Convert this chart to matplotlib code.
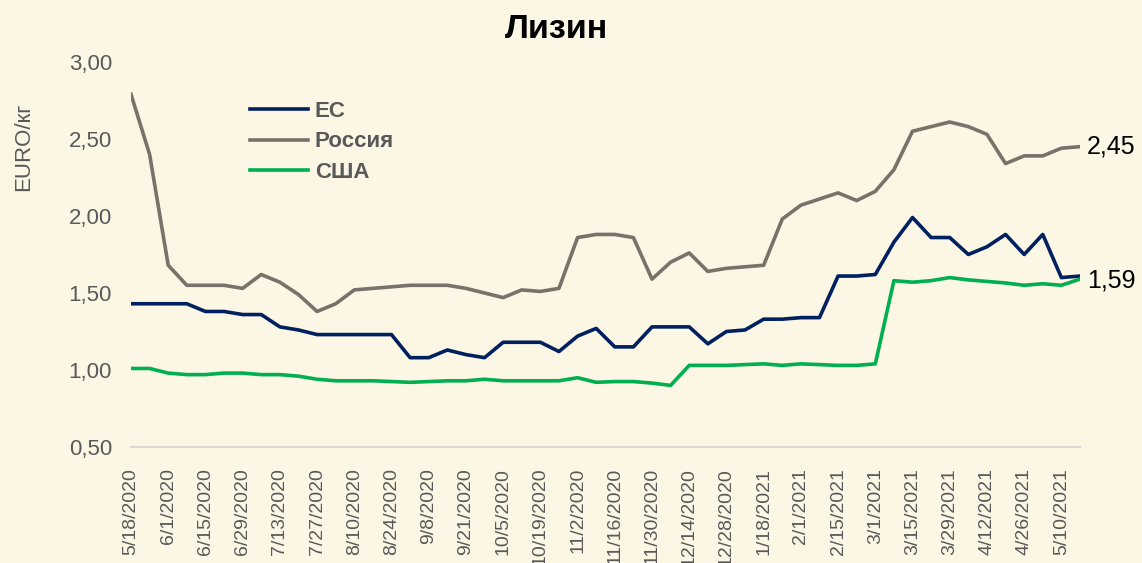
import matplotlib.pyplot as plt
import numpy as np

# weekly prices, EURO/kg
eu = [1.43, 1.43, 1.43, 1.43, 1.38, 1.38, 1.36, 1.36, 1.28, 1.26,
      1.23, 1.23, 1.23, 1.23, 1.23, 1.08, 1.08, 1.13, 1.10, 1.08,
      1.18, 1.18, 1.18, 1.12, 1.22, 1.27, 1.15, 1.15, 1.28, 1.28,
      1.28, 1.17, 1.25, 1.26, 1.33, 1.33, 1.34, 1.34, 1.61, 1.61,
      1.62, 1.83, 1.99, 1.86, 1.86, 1.75, 1.80, 1.88, 1.75, 1.88,
      1.60, 1.61]
russia = [2.79, 2.40, 1.68, 1.55, 1.55, 1.55, 1.53, 1.62, 1.57, 1.49,
          1.38, 1.43, 1.52, 1.53, 1.54, 1.55, 1.55, 1.55, 1.53, 1.50,
          1.47, 1.52, 1.51, 1.53, 1.86, 1.88, 1.88, 1.86, 1.59, 1.70,
          1.76, 1.64, 1.66, 1.67, 1.68, 1.98, 2.07, 2.11, 2.15, 2.10,
          2.16, 2.30, 2.55, 2.58, 2.61, 2.58, 2.53, 2.34, 2.39, 2.39,
          2.44, 2.45]
usa = [1.01, 1.01, 0.98, 0.97, 0.97, 0.98, 0.98, 0.97, 0.97, 0.96,
       0.94, 0.93, 0.93, 0.93, 0.925, 0.92, 0.925, 0.93, 0.93, 0.94,
       0.93, 0.93, 0.93, 0.93, 0.95, 0.92, 0.925, 0.925, 0.915, 0.90,
       1.03, 1.03, 1.03, 1.035, 1.04, 1.03, 1.04, 1.035, 1.03, 1.03,
       1.04, 1.58, 1.57, 1.58, 1.60, 1.585, 1.575, 1.565, 1.55, 1.56,
       1.55, 1.59]
tick_labels = ["5/18/2020", "6/1/2020", "6/15/2020", "6/29/2020", "7/13/2020",
               "7/27/2020", "8/10/2020", "8/24/2020", "9/8/2020", "9/21/2020",
               "10/5/2020", "10/19/2020", "11/2/2020", "11/16/2020", "11/30/2020",
               "12/14/2020", "12/28/2020", "1/18/2021", "2/1/2021", "2/15/2021",
               "3/1/2021", "3/15/2021", "3/29/2021", "4/12/2021", "4/26/2021",
               "5/10/2021"]

plt.rcParams["font.family"] = ["Liberation Sans", "DejaVu Sans"]
bg = "#FCF6E4"
grey_txt = "#595959"

fig = plt.figure(figsize=(11.42, 5.63), dpi=100, facecolor=bg)
ax = fig.add_axes([0.1147, 0.206, 0.831, 0.684], facecolor=bg)

x = np.arange(len(eu))
ax.plot(x, eu, color="#002060", lw=2.6, label="ЕС")
ax.plot(x, russia, color="#7A716B", lw=2.6, label="Россия")
ax.plot(x, usa, color="#00B050", lw=2.6, label="США")

ax.set_xlim(0, len(eu) - 1)
ax.set_ylim(0.5, 3.0)
yt = np.arange(0.5, 3.01, 0.5)
ax.set_yticks(yt)
ax.set_yticklabels([f"{v:.2f}".replace(".", ",") for v in yt])
ax.set_xticks(np.arange(0, len(eu), 2))
ax.set_xticklabels(tick_labels, rotation=90)
ax.tick_params(axis="both", length=0, labelcolor=grey_txt)
ax.tick_params(axis="y", labelsize=16, pad=13.7)
ax.tick_params(axis="x", labelsize=14, pad=15)

for s in ["top", "right", "left"]:
    ax.spines[s].set_visible(False)
ax.spines["bottom"].set_color("#D9D9D9")
ax.spines["bottom"].set_linewidth(1.5)

# end-of-line labels
ax.annotate("2,45", (x[-1], russia[-1]), xytext=(5, 0), textcoords="offset points",
            va="center", ha="left", fontsize=18)
ax.annotate("1,59", (x[-1], usa[-1]), xytext=(5, -1), textcoords="offset points",
            va="center", ha="left", fontsize=18)

leg = ax.legend(loc="upper left", bbox_to_anchor=(250 / 1142, 1 - 101 / 563),
                bbox_transform=fig.transFigure, frameon=False, borderpad=0,
                borderaxespad=0, handlelength=2.6, handletextpad=0.32,
                labelspacing=0.42, prop={"weight": "bold", "size": 16})
for t in leg.get_texts():
    t.set_color(grey_txt)

fig.text(0.487, 0.947, "Лизин", ha="center", va="center", fontsize=24.5, fontweight="bold")
fig.text(0.021, 0.739, "EURO/кг", rotation=90, ha="center", va="center",
         fontsize=16, color=grey_txt)

plt.savefig("out.png", dpi=100, facecolor=bg)
